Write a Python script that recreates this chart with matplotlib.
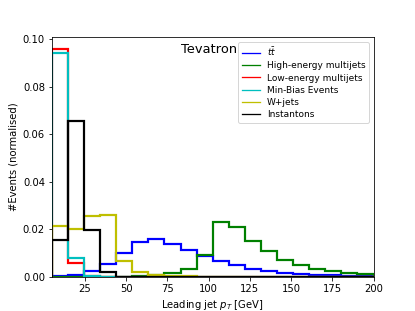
import numpy as np
import matplotlib
matplotlib.use('Agg')
import matplotlib.pyplot as plt
from matplotlib.lines import Line2D

# 20 bins between 5 and 200 GeV
bin_edges = np.linspace(5, 200, 21)

labels = [r'$t\bar{t}$', 'High-energy multijets', 'Low-energy multijets',
          'Min-Bias Events', 'W+jets', 'Instantons']
colors = ['b', 'g', 'r', 'c', 'y', 'k']

ttbar = [0.0003, 0.0007, 0.0025, 0.0053, 0.0101, 0.0145, 0.0159, 0.0140, 0.0112, 0.0086,
         0.0066, 0.0048, 0.0034, 0.0024, 0.0017, 0.0012, 0.0008, 0.0006, 0.0005, 0.0004]
high_mj = [0.0, 0.0, 0.0, 0.0, 0.0, 0.0003, 0.0008, 0.0015, 0.0031, 0.0091,
           0.0229, 0.0210, 0.0151, 0.0109, 0.0070, 0.0048, 0.0032, 0.0024, 0.0017, 0.0013]
low_mj = [0.0961, 0.0059, 0.0004, 0.0, 0.0, 0.0, 0.0, 0.0, 0.0, 0.0,
          0.0, 0.0, 0.0, 0.0, 0.0, 0.0, 0.0, 0.0, 0.0, 0.0]
minbias = [0.0942, 0.0080, 0.0004, 0.0, 0.0, 0.0, 0.0, 0.0, 0.0, 0.0,
           0.0, 0.0, 0.0, 0.0, 0.0, 0.0, 0.0, 0.0, 0.0, 0.0]
wjets = [0.0213, 0.0201, 0.0257, 0.0262, 0.0067, 0.0021, 0.0007, 0.0004, 0.0002, 0.0001,
         0.0, 0.0, 0.0, 0.0, 0.0, 0.0, 0.0, 0.0, 0.0, 0.0]
instantons = [0.0154, 0.0656, 0.0199, 0.0021, 0.0, 0.0, 0.0, 0.0, 0.0, 0.0,
              0.0, 0.0, 0.0, 0.0, 0.0, 0.0, 0.0, 0.0, 0.0, 0.0]

series = [ttbar, high_mj, low_mj, minbias, wjets, instantons]

fig, ax = plt.subplots(figsize=(415 / 72, 311 / 72), dpi=72)

centers = 0.5 * (bin_edges[1:] + bin_edges[:-1])
for vals, c in zip(series, colors):
    ax.hist(centers, bins=bin_edges, weights=vals, histtype='step', color=c, lw=2.2)

ax.set_xlim(5, 200)
ax.set_xlabel(r'Leading jet $p_T$ [GeV]')
ax.set_ylabel('#Events (normalised)')
ax.text(0.40, 0.975, 'Tevatron', transform=ax.transAxes, ha='left', va='top', fontsize=13)

handles = [Line2D([], [], color=c, lw=1.3) for c in colors]
ax.legend(handles, labels, loc='upper right', fontsize=9, labelspacing=0.35)

fig.savefig('out.png', dpi=72)
